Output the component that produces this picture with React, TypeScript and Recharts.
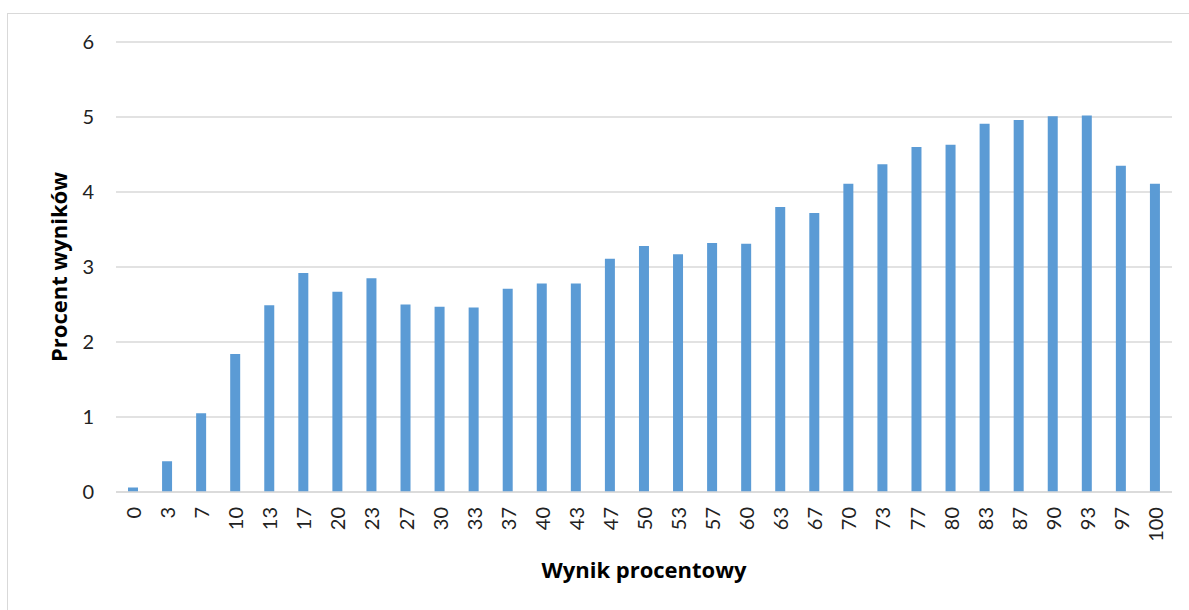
import React from 'react';
import { BarChart, Bar, XAxis, YAxis, CartesianGrid } from 'recharts';

const scores = [
  '0', '3', '7', '10', '13', '17', '20', '23', '27', '30', '33', '37', '40', '43', '47', '50',
  '53', '57', '60', '63', '67', '70', '73', '77', '80', '83', '87', '90', '93', '97', '100',
];
const percents = [
  0.06, 0.41, 1.05, 1.84, 2.49, 2.92, 2.67, 2.85, 2.5, 2.47, 2.46, 2.71, 2.78, 2.78, 3.11, 3.28,
  3.17, 3.32, 3.31, 3.8, 3.72, 4.11, 4.37, 4.6, 4.63, 4.91, 4.96, 5.01, 5.02, 4.35, 4.11,
];
const yTicks = [0, 1, 2, 3, 4, 5, 6];

const data = scores.map((name, i) => ({ name, value: percents[i] }));

const FONT = 'Lato, "Open Sans", sans-serif';
const TITLE_FONT = '"Open Sans", Lato, sans-serif';
const GRID = '#d9d9d9';

const XTick = (props: any) => {
  const { x, y, payload } = props;
  return (
    <text
      x={x}
      y={y}
      transform={`rotate(-90, ${x}, ${y})`}
      textAnchor="end"
      dominantBaseline="central"
      fontFamily={FONT}
      fontSize={20}
      fill="#222"
    >
      {payload.value}
    </text>
  );
};

const YTitle = (props: any) => {
  const { viewBox } = props;
  const x = viewBox.x + 58;
  const y = viewBox.y + viewBox.height / 2;
  return (
    <text
      x={x}
      y={y}
      transform={`rotate(-90, ${x}, ${y})`}
      textAnchor="middle"
      dominantBaseline="central"
      fontFamily={TITLE_FONT}
      fontWeight="bold"
      fontSize={22}
      fill="#000"
    >
      Procent wyników
    </text>
  );
};

const XTitle = (props: any) => {
  const { viewBox } = props;
  return (
    <text
      x={viewBox.x + viewBox.width / 2}
      y={578}
      textAnchor="middle"
      fontFamily={TITLE_FONT}
      fontWeight="bold"
      fontSize={22}
      fill="#000"
    >
      Wynik procentowy
    </text>
  );
};

export default function App() {
  return (
    <div style={{ position: 'absolute', left: 0, top: 0, width: 1189, height: 610, background: '#fff', overflow: 'hidden' }}>
      <div
        style={{
          position: 'absolute',
          left: 7,
          top: 13,
          width: 1200,
          height: 620,
          borderLeft: `1.5px solid ${GRID}`,
          borderTop: `1.5px solid ${GRID}`,
        }}
      />
      <BarChart
        width={1189}
        height={610}
        data={data}
        margin={{ top: 42, right: 17, bottom: 18, left: 0 }}
        barCategoryGap={0}
        style={{ position: 'absolute', left: 0, top: 0 }}
      >
        <CartesianGrid vertical={false} stroke={GRID} strokeWidth={1.5} />
        <XAxis
          dataKey="name"
          interval={0}
          height={100}
          axisLine={{ stroke: GRID, strokeWidth: 1.5 }}
          tickLine={false}
          tickSize={0}
          tickMargin={15}
          tick={<XTick />}
          label={<XTitle />}
        />
        <YAxis
          domain={[0, 6]}
          ticks={yTicks}
          width={116}
          axisLine={false}
          tickLine={false}
          tickSize={0}
          tickMargin={22}
          tick={{ fontFamily: FONT, fontSize: 20, fill: '#222' }}
          label={<YTitle />}
        />
        <Bar dataKey="value" fill="#5b9bd5" barSize={10} isAnimationActive={false} />
      </BarChart>
    </div>
  );
}
